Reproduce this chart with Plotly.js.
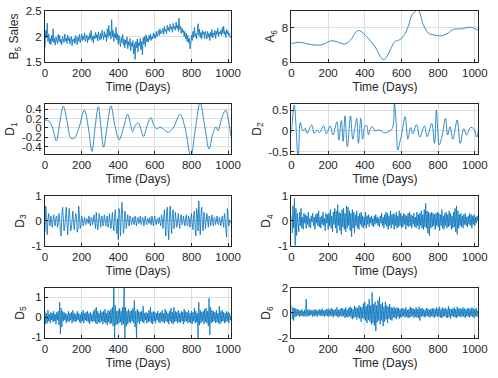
<!DOCTYPE html>
<html>
<head>
<meta charset="utf-8">
<script src="https://cdn.plot.ly/plotly-3.0.1.min.js"></script>
<style>
  html, body { margin: 0; padding: 0; background: #fff; }
  #chart { width: 498px; height: 378px; }
</style>
</head>
<body>
<div id="chart"></div>
<script>
// Wavelet decomposition of daily sales: approximation A6 and details D1..D6

const STEP = 4; // days between samples in the noisy series

const b5Sales = [
  1.78, 2.12, 1.98, 2.26, 1.9, 2.05, 1.86, 1.97, 1.84, 2.02,
  1.9, 2.15, 1.88, 1.96, 1.83, 1.99, 1.92, 1.86, 2.04, 1.9,
  2.02, 1.87, 1.95, 1.84, 2.0, 1.93, 1.88, 2.05, 1.91, 1.97,
  1.86, 2.03, 1.92, 1.98, 1.85, 1.95, 2.0, 1.82, 1.94, 1.9,
  1.97, 1.86, 2.02, 1.93, 1.84, 1.99, 1.91, 2.04, 1.88, 1.96,
  2.05, 1.92, 2.01, 1.94, 2.07, 1.9, 1.98, 2.03, 1.88, 2.0,
  1.93, 2.06, 1.96, 2.12, 1.92, 2.0, 1.87, 2.02, 1.95, 2.08,
  1.97, 2.04, 1.91, 2.09, 1.98, 1.93, 2.06, 1.95, 2.12, 2.0,
  1.94, 2.1, 1.99, 2.05, 1.9, 2.15, 1.98, 2.22, 2.02, 2.1,
  1.95, 2.33, 2.0, 2.12, 1.9, 2.06, 1.97, 2.18, 1.93, 2.05,
  1.85, 2.02, 1.92, 1.8, 1.98, 1.88, 2.04, 1.83, 1.95, 1.78,
  1.93, 1.85, 1.99, 1.76, 1.9, 1.82, 1.96, 1.72, 1.88, 1.8,
  1.92, 1.66, 1.86, 1.55, 1.9, 1.78, 1.95, 1.7, 1.88, 1.82,
  1.96, 1.74, 1.9, 1.64, 1.98, 1.85, 2.0, 1.8, 2.03, 1.9,
  1.97, 1.89, 2.02, 1.94, 2.05, 1.92, 2.0, 1.95, 2.07, 1.98,
  2.04, 1.96, 2.1, 2.0, 2.06, 2.12, 2.02, 2.15, 2.05, 2.1,
  2.08, 2.16, 2.04, 2.2, 2.1, 2.14, 2.06, 2.22, 2.12, 2.18,
  2.1, 2.24, 2.14, 2.19, 2.08, 2.26, 2.15, 2.2, 2.12, 2.28,
  2.16, 2.22, 2.1, 2.36, 2.14, 2.2, 2.06, 2.17, 2.08, 2.12,
  2.0, 2.1, 1.95, 2.06, 1.9, 2.02, 1.88, 1.96, 1.76, 1.94,
  2.02, 1.92, 2.1, 1.98, 2.18, 2.0, 2.06, 1.95, 2.1, 2.25,
  2.02, 2.14, 1.98, 2.08, 1.95, 2.12, 2.03, 2.09, 1.96, 2.1,
  2.04, 1.95, 2.1, 1.99, 2.06, 1.92, 2.08, 2.0, 2.14, 1.97,
  2.07, 2.02, 2.12, 1.96, 2.1, 2.04, 2.16, 2.0, 2.09, 2.05,
  2.12, 2.02, 2.18, 2.06, 2.2, 2.04, 2.1, 1.98, 2.14, 2.05,
  2.1, 2.02, 2.06, 1.98, 2.0
];

const a6Days = [0, 44, 108, 163, 218, 245, 291, 324, 355, 373, 409, 455, 491, 506, 528, 564, 583, 610, 637, 659, 690, 719, 746, 773, 819, 855, 883, 929, 965, 983, 1002, 1020];
const a6Vals = [7.08, 7.16, 7.02, 7.01, 7.25, 7.2, 7.06, 7.31, 7.8, 7.84, 7.5, 6.91, 6.22, 6.14, 6.47, 7.2, 7.27, 7.5, 8.1, 8.79, 9.05, 8.2, 7.7, 7.6, 7.54, 7.7, 7.92, 7.95, 8.04, 8.03, 7.95, 7.85];

const d1Days = [0, 20, 40, 62, 80, 100, 120, 142, 160, 185, 215, 237, 256, 273, 291, 306, 320, 340, 360, 382, 405, 428, 451, 465, 478, 493, 509, 523, 538, 558, 578, 595, 611, 629, 651, 674, 700, 738, 765, 796, 822, 847, 872, 896, 915, 933, 945, 965, 987, 1000, 1016];
const d1Vals = [0.17, 0.15, 0.02, -0.28, 0.1, 0.46, 0.15, -0.22, -0.22, 0.0, 0.38, 0.0, -0.5, 0.0, 0.45, 0.0, -0.41, 0.05, 0.47, 0.05, -0.25, 0.0, 0.29, 0.12, -0.08, 0.05, 0.11, -0.02, -0.18, 0.05, 0.22, 0.05, -0.02, 0.02, -0.04, -0.09, 0.0, 0.29, 0.0, -0.6, 0.0, 0.54, 0.05, -0.45, -0.15, 0.02, -0.06, 0.2, 0.38, 0.2, -0.18];

const d2Days = [0, 15, 37, 48, 62, 75, 85, 110, 124, 140, 153, 175, 190, 211, 226, 248, 258, 272, 282, 292, 305, 322, 334, 345, 356, 365, 378, 388, 400, 410, 420, 430, 442, 455, 470, 490, 505, 548, 561, 571, 580, 592, 600, 620, 635, 650, 662, 682, 700, 725, 740, 765, 780, 790, 798, 805, 820, 840, 852, 865, 880, 904, 920, 940, 955, 976, 995, 1010, 1020];
const d2Vals = [-0.05, 0.62, -0.7, 0.2, 0.0, 0.06, -0.06, 0.14, -0.06, 0.02, -0.04, 0.12, -0.07, 0.12, -0.1, 0.22, -0.22, 0.25, -0.25, 0.36, -0.38, 0.36, -0.2, 0.05, 0.3, -0.3, 0.3, -0.2, 0.1, 0.13, -0.1, 0.05, 0.1, 0.0, 0.02, 0.0, -0.05, 0.05, 0.66, 0.2, -0.46, -0.25, -0.1, 0.34, -0.2, 0.08, -0.07, 0.15, -0.15, 0.12, -0.14, 0.18, -0.3, 0.5, 0.0, -0.34, -0.15, 0.3, -0.1, 0.1, -0.2, 0.26, -0.3, 0.05, -0.1, 0.08, 0.05, -0.15, 0.0];

const d3Vals = [
  -0.45, 0.6, 0.15, -0.55, 0.05, 0.3, -0.15, -0.2, 0.2, 0.05,
  -0.25, 0.1, 0.25, -0.1, -0.2, 0.15, 0.2, -0.25, -0.1, 0.3,
  0.1, -0.45, -0.6, 0.2, 0.55, 0.1, -0.4, -0.2, 0.3, 0.55,
  -0.1, -0.55, 0.05, 0.5, 0.1, -0.4, -0.3, 0.25, 0.4, -0.1,
  -0.35, 0.05, 0.3, 0.1, -0.45, -0.3, 0.6, 0.2, -0.3, -0.15,
  0.2, 0.1, -0.2, -0.05, 0.15, -0.1, -0.15, 0.1, 0.05, -0.1,
  0.2, -0.05, -0.2, 0.15, 0.1, -0.15, 0.0, 0.25, -0.1, -0.3,
  0.35, 0.1, -0.35, -0.1, 0.3, 0.05, -0.25, 0.15, 0.2, -0.2,
  -0.1, 0.25, 0.05, -0.2, 0.1, 0.2, -0.25, -0.1, 0.3, 0.1,
  -0.3, 0.0, 0.35, -0.15, -0.4, 0.2, 0.45, -0.2, -0.5, 0.1,
  -0.75, 0.5, 0.3, -0.6, 0.1, 0.75, 0.2, -0.5, -0.3, 0.4,
  0.2, -0.3, 0.0, 0.25, -0.15, -0.2, 0.2, 0.1, -0.15, 0.05,
  0.15, -0.1, -0.15, 0.2, 0.05, -0.2, 0.1, 0.15, -0.1, -0.05,
  0.2, -0.15, -0.1, 0.15, 0.1, -0.2, 0.05, 0.2, -0.1, -0.15,
  0.1, 0.05, -0.1, 0.15, -0.05, -0.15, 0.2, 0.0, -0.2, 0.1,
  0.2, -0.1, -0.15, 0.1, 0.05, -0.1, 0.15, -0.05, -0.2, 0.25,
  0.1, -0.3, 0.15, 0.45, -0.2, -0.6, 0.3, 0.55, -0.3, -0.75,
  0.2, 0.6, -0.1, -0.5, 0.3, 0.45, -0.3, -0.2, 0.35, 0.1,
  -0.25, 0.0, 0.3, -0.1, -0.3, 0.15, 0.25, -0.15, -0.1, 0.2,
  0.05, -0.2, 0.1, 0.25, -0.15, -0.2, 0.2, 0.1, -0.25, 0.05,
  0.3, -0.1, -0.35, 0.25, 0.4, -0.3, -0.6, 0.5, 0.3, -0.4,
  0.8, 0.1, -0.55, 0.3, 0.55, -0.2, -0.4, 0.35, 0.2, -0.3,
  -0.1, 0.3, 0.05, -0.25, 0.2, 0.15, -0.2, -0.05, 0.25, -0.1,
  -0.2, 0.15, 0.1, -0.15, 0.0, 0.2, -0.1, -0.15, 0.15, 0.05,
  -0.2, 0.1, 0.2, -0.05, -0.25, 0.3, 0.1, -0.35, -0.65, 0.5,
  0.1, -0.2, 0.05, -0.1, -0.1
];

const d4Vals = [
  0.2, -0.5, 0.6, -0.3, 0.9, -1.0, 0.5, -0.6, 0.3, -0.4,
  -0.45, 0.35, -0.2, 0.5, -0.3, 0.15, -0.35, 0.3, -0.1, 0.25,
  -0.3, 0.2, -0.15, 0.35, -0.25, 0.1, -0.3, 0.2, -0.05, 0.3,
  -0.2, 0.15, -0.35, 0.25, -0.1, 0.3, -0.2, 0.4, -0.25, 0.15,
  -0.3, 0.2, -0.15, 0.35, -0.2, 0.1, -0.4, 0.3, -0.1, 0.25,
  -0.35, 0.3, -0.2, 0.45, -0.3, 0.2, -0.45, 0.35, -0.15, 0.5,
  -0.3, 0.4, -0.5, 0.65, -0.2, 0.35, -0.4, 0.3, -0.55, 0.45,
  -0.25, 0.5, -0.35, 0.3, -0.45, 0.6, -0.3, 0.55, -0.2, 0.4,
  -0.4, 0.3, -0.65, 0.45, -0.3, 0.35, -0.5, 0.25, -0.2, 0.4,
  -0.3, 0.2, -0.35, 0.3, -0.15, 0.35, -0.25, 0.2, -0.3, 0.15,
  -0.2, 0.35, -0.3, 0.2, -0.15, 0.25, -0.25, 0.15, -0.1, 0.2,
  -0.2, 0.1, -0.25, 0.2, -0.15, 0.25, -0.1, 0.15, -0.2, 0.1,
  -0.25, 0.2, -0.1, 0.3, -0.2, 0.15, -0.3, 0.25, -0.15, 0.35,
  -0.25, 0.3, -0.35, 0.2, -0.2, 0.4, -0.3, 0.25, -0.15, 0.3,
  -0.35, 0.25, -0.2, 0.35, -0.3, 0.2, -0.25, 0.4, -0.2, 0.3,
  -0.3, 0.2, -0.25, 0.3, -0.15, 0.25, -0.35, 0.2, -0.2, 0.3,
  -0.25, 0.35, -0.2, 0.25, -0.3, 0.2, -0.15, 0.3, -0.25, 0.15,
  -0.3, 0.35, -0.2, 0.25, -0.35, 0.3, -0.2, 0.4, -0.3, 0.25,
  -0.35, 0.45, -0.25, 0.7, -0.3, 0.4, -0.5, 0.35, -0.6, 0.3,
  -0.3, 0.35, -0.25, 0.3, -0.2, 0.25, -0.35, 0.3, -0.2, 0.35,
  -0.25, 0.3, -0.4, 0.25, -0.2, 0.45, -0.3, 0.2, -0.35, 0.3,
  -0.2, 0.35, -0.3, 0.25, -0.25, 0.4, -0.2, 0.3, -0.35, 0.2,
  -0.3, 0.35, -0.25, 0.5, -0.45, 0.6, -0.55, 0.4, -0.3, 0.25,
  -0.2, 0.3, -0.25, 0.2, -0.3, 0.25, -0.15, 0.3, -0.2, 0.15,
  -0.25, 0.2, -0.15, 0.3, -0.2, 0.25, -0.3, 0.2, -0.15, 0.25,
  -0.2, 0.15, -0.1, 0.2, 0.0
];

const d5Vals = [
  0.3, -0.35, 0.2, -0.3, 0.35, -0.2, 0.15, -0.3, 0.25, -0.15,
  0.2, -0.25, 0.3, -0.2, 0.15, -0.35, 0.25, -0.15, 0.3, -0.4,
  0.75, -0.85, 0.45, -0.5, 0.3, -0.2, 0.25, -0.15, 0.2, -0.3,
  0.15, -0.2, 0.3, -0.25, 0.2, -0.15, 0.25, -0.3, 0.35, -0.2,
  0.2, -0.25, 0.15, -0.2, 0.3, -0.15, 0.2, -0.25, 0.15, -0.3,
  0.25, -0.2, 0.35, -0.3, 0.2, -0.15, 0.25, -0.2, 0.3, -0.25,
  0.2, -0.35, 0.25, -0.2, 0.15, -0.25, 0.3, -0.2, 0.4, -0.3,
  0.5, -0.35, 0.3, -0.25, 0.2, -0.3, 0.35, -0.2, 0.25, -0.35,
  0.3, -0.25, 0.4, -0.3, 0.2, -0.4, 0.35, -0.25, 0.3, -0.35,
  0.4, -0.3, 0.5, -0.45, 1.6, -1.1, 0.6, -0.4, 0.3, -0.35,
  0.35, -0.3, 0.45, -0.25, 0.3, -0.4, 0.5, -0.35, 1.6, -1.1,
  0.5, -0.45, 0.3, -0.35, 0.4, -0.25, 0.3, -0.3, 0.35, -0.2,
  0.45, -0.3, 0.85, -0.5, 0.3, -1.05, 0.4, -0.25, 0.3, -0.35,
  0.25, -0.2, 0.3, -0.25, 0.55, -0.3, 0.2, -0.15, 0.25, -0.3,
  0.2, -0.25, 0.35, -0.2, 0.5, -0.3, 0.25, -0.35, 0.3, -0.2,
  0.25, -0.3, 0.2, -0.15, 0.3, -0.25, 0.2, -0.3, 0.25, -0.2,
  0.35, -0.25, 0.2, -0.3, 0.4, -0.2, 0.3, -0.25, 0.2, -0.35,
  0.3, -0.2, 0.45, -0.3, 0.25, -0.35, 0.5, -0.25, 0.3, -0.2,
  0.25, -0.3, 0.35, -0.25, 0.2, -0.3, 0.3, -0.2, 0.25, -0.35,
  0.4, -0.25, 0.3, -0.2, 0.25, -0.3, 0.35, -0.25, 0.2, -0.3,
  0.3, -0.35, 0.25, -0.2, 0.45, -0.3, 0.3, -0.25, 0.2, -1.05,
  0.75, -0.4, 0.35, -0.3, 0.25, -0.2, 0.3, -0.35, 0.4, -0.25,
  0.45, -0.3, 0.3, -0.45, 0.95, -0.9, 0.5, -0.3, 0.35, -0.25,
  0.3, -0.2, 0.25, -0.3, 0.35, -0.25, 0.2, -0.3, 0.55, -0.35,
  0.3, -0.25, 0.35, -0.2, 0.25, -0.3, 0.2, -0.25, 0.3, -0.2,
  0.25, -0.3, 0.2, -0.15, 0.1
];

const d6Vals = [
  0.6, -0.5, 0.45, -0.6, 0.4, -0.3, 0.35, -0.25, 0.3, -0.2,
  0.25, -0.3, 0.2, -0.25, 0.3, -0.2, 0.15, -0.3, 0.25, -0.2,
  1.1, -0.3, 0.25, -0.2, 0.3, -0.25, 0.2, -0.15, 0.25, -0.3,
  0.2, -0.25, 0.3, -0.2, 0.25, -0.3, 0.2, -0.15, 0.3, -0.25,
  0.25, -0.2, 0.35, -0.25, 0.2, -0.3, 0.25, -0.2, 0.3, -0.25,
  0.35, -0.3, 0.25, -0.2, 0.4, -0.25, 0.3, -0.35, 0.25, -0.2,
  0.3, -0.25, 0.45, -0.3, 0.25, -0.35, 0.3, -0.2, 0.4, -0.3,
  0.35, -0.25, 0.3, -0.4, 0.45, -0.3, 0.25, -0.35, 0.4, -0.25,
  0.5, -0.35, 0.4, -0.5, 0.3, -0.4, 0.55, -0.3, 0.45, -0.5,
  0.4, -0.35, 0.6, -0.45, 0.5, -0.7, 0.45, -0.4, 0.75, -0.5,
  0.9, -0.6, 0.55, -0.8, 0.7, -0.55, 1.1, -0.7, 0.6, -0.9,
  1.65, -0.8, 0.7, -1.0, 0.9, -1.45, 0.6, -0.75, 1.0, -0.6,
  1.3, -0.9, 0.7, -0.6, 0.85, -1.05, 0.5, -0.7, 0.9, -0.5,
  0.6, -0.8, 0.5, -0.45, 0.7, -0.55, 0.45, -0.6, 0.4, -0.35,
  0.5, -0.4, 0.35, -0.5, 0.45, -0.3, 0.4, -0.45, 0.3, -0.35,
  0.35, -0.3, 0.4, -0.25, 0.3, -0.35, 0.45, -0.3, 0.25, -0.4,
  0.3, -0.35, 0.5, -0.3, 0.4, -0.25, 0.35, -0.4, 0.3, -0.3,
  0.45, -0.35, 0.3, -0.4, 0.5, -0.6, 0.35, -0.3, 0.4, -0.25,
  0.3, -0.35, 0.25, -0.3, 0.4, -0.25, 0.35, -0.3, 0.25, -0.35,
  0.3, -0.25, 0.4, -0.3, 0.35, -0.4, 0.3, -0.25, 0.45, -0.3,
  0.35, -0.3, 0.5, -0.35, 0.3, -0.4, 0.45, -0.3, 0.35, -0.25,
  0.4, -0.35, 0.3, -0.4, 0.55, -0.3, 0.35, -0.45, 0.3, -0.25,
  0.35, -0.3, 0.45, -0.35, 0.3, -0.4, 0.5, -0.3, 0.35, -0.25,
  0.4, -0.35, 0.3, -0.25, 0.45, -0.3, 0.35, -0.4, 0.3, -0.25,
  0.35, -0.3, 0.4, -0.35, 0.3, -0.25, 0.45, -0.3, 0.35, -0.4,
  0.3, -0.25, 0.4, -0.3, 0.2
];

const xTicks = [0, 200, 400, 600, 800, 1000];
const xTitle = 'Time (Days)';

/* ---------- panel layout ---------- */

const LINE_COLOR = '#0072BD';
const TEXT_COLOR = '#262626';
const FONT = 'Liberation Sans, Arial, sans-serif';

const colDomains = [[0.0904, 0.4639], [0.5853, 0.9608]];
const colRanges = [[0, 1016], [0, 1020]];
const rowDomains = [[0.836, 0.971], [0.5926, 0.7249], [0.3492, 0.4815], [0.1058, 0.2381]];

function sampleDays(vals) {
    return vals.map((_, i) => i * STEP);
}

const panels = [
    { label: 'B<sub>5</sub> Sales', x: sampleDays(b5Sales), y: b5Sales, range: [1.5, 2.5], ticks: [1.5, 2, 2.5], text: ['1.5', '2', '2.5'] },
    { label: 'A<sub>6</sub>', x: a6Days, y: a6Vals, range: [6, 9], ticks: [6, 8], text: ['6', '8'], smooth: true },
    { label: 'D<sub>1</sub>', x: d1Days, y: d1Vals, range: [-0.555, 0.51], ticks: [-0.4, -0.2, 0, 0.2, 0.4], text: ['-0.4', '-0.2', '0', '0.2', '0.4'], smooth: true },
    { label: 'D<sub>2</sub>', x: d2Days, y: d2Vals, range: [-0.555, 0.645], ticks: [-0.5, 0, 0.5], text: ['-0.5', '0', '0.5'], smooth: true },
    { label: 'D<sub>3</sub>', x: sampleDays(d3Vals), y: d3Vals, range: [-1, 1], ticks: [-1, 0, 1], text: ['-1', '0', '1'] },
    { label: 'D<sub>4</sub>', x: sampleDays(d4Vals), y: d4Vals, range: [-1.02, 1], ticks: [-1, 0, 1], text: ['-1', '0', '1'] },
    { label: 'D<sub>5</sub>', x: sampleDays(d5Vals), y: d5Vals, range: [-1.05, 1.47], ticks: [-1, 0, 1], text: ['-1', '0', '1'] },
    { label: 'D<sub>6</sub>', x: sampleDays(d6Vals), y: d6Vals, range: [-2, 2], ticks: [-2, 0, 2], text: ['-2', '0', '2'] }
];

const data = [];
const layout = {
    width: 498,
    height: 378,
    margin: { t: 0, r: 0, b: 0, l: 0 },
    paper_bgcolor: '#ffffff',
    plot_bgcolor: '#ffffff',
    showlegend: false,
    font: { family: FONT, size: 12, color: TEXT_COLOR }
};

panels.forEach((p, i) => {
    const col = i % 2;
    const row = Math.floor(i / 2);
    const n = i === 0 ? '' : String(i + 1);

    data.push({
        type: 'scatter',
        mode: 'lines',
        x: p.x,
        y: p.y,
        xaxis: 'x' + n,
        yaxis: 'y' + n,
        line: { color: LINE_COLOR, width: 0.8, shape: p.smooth ? 'spline' : 'linear', smoothing: 1 },
        hoverinfo: 'skip'
    });

    const common = {
        showline: true,
        mirror: true,
        linecolor: TEXT_COLOR,
        linewidth: 1,
        ticks: 'inside',
        ticklen: 3,
        tickwidth: 1,
        tickcolor: TEXT_COLOR,
        showgrid: true,
        gridcolor: '#dedede',
        gridwidth: 1,
        zeroline: false,
        tickfont: { family: FONT, size: 11.5, color: TEXT_COLOR },
        fixedrange: true
    };

    layout['xaxis' + n] = {
        ...common,
        domain: colDomains[col],
        range: colRanges[col],
        anchor: 'y' + n,
        tickmode: 'array',
        tickvals: xTicks,
        ticktext: xTicks.map(String),
        title: { text: xTitle, font: { family: FONT, size: 12, color: TEXT_COLOR }, standoff: 4 }
    };

    layout['yaxis' + n] = {
        ...common,
        domain: rowDomains[row],
        range: p.range,
        anchor: 'x' + n,
        tickmode: 'array',
        tickvals: p.ticks,
        ticktext: p.text,
        title: { text: p.label, font: { family: FONT, size: 12, color: TEXT_COLOR }, standoff: 4 }
    };
});

Plotly.newPlot('chart', data, layout, { responsive: false, displayModeBar: false, staticPlot: true });
</script>
</body>
</html>
